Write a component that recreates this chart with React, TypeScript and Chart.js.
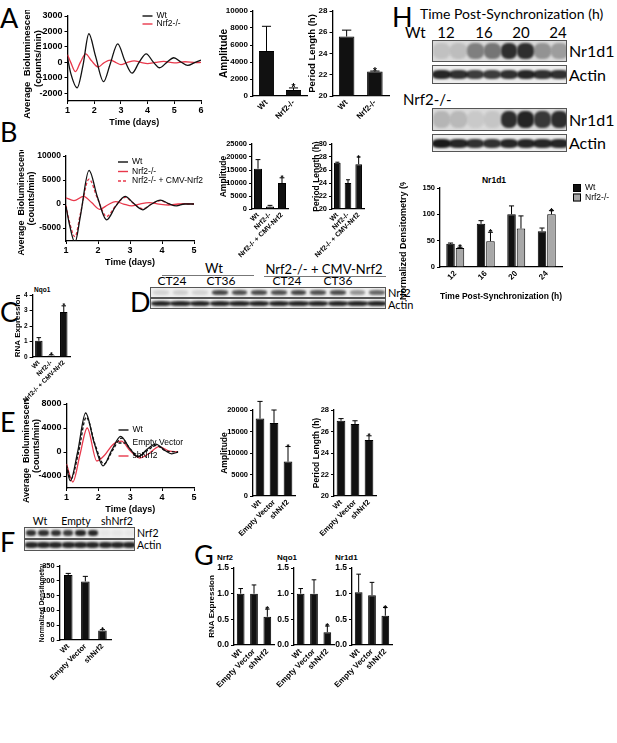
import React, { useEffect, useRef } from "react";
import { Chart, registerables } from "chart.js";

const ARIAL = "'Liberation Sans', Arial, Helvetica, sans-serif";
const CAL = "Lato, 'Open Sans', sans-serif";
const RED = "#e8384b";
const BLACK = "#111111";
const GRAY = "#a8a8a8";

// ---------------- Panel A ----------------
const A_WT_DAYS = [1.0, 1.12, 1.36, 1.58, 1.8, 2.05, 2.35, 2.6, 2.88, 3.15, 3.42, 3.68, 3.95, 4.2, 4.45, 4.72, 4.98, 5.25, 5.5, 5.78, 6.0];
const A_WT_VALS = [300, -700, -1650, -200, 1850, 400, -1250, -100, 1200, 100, -700, 0, 550, 50, -350, 0, 300, 20, -200, 0, 150];
const A_KO_DAYS = [1.0, 1.12, 1.3, 1.48, 1.68, 1.9, 2.15, 2.35, 2.6, 2.8, 3.0, 3.25, 3.5, 3.75, 4.0, 4.3, 4.6, 5.0, 5.4, 5.8, 6.0];
const A_KO_VALS = [500, 0, -600, 0, 550, 100, -300, -50, 150, 0, -150, 0, 100, 0, -80, 0, 60, -30, 40, -20, 0];
const A_LINE_YTICKS = [-2000, -1000, 0, 1000, 2000, 3000];
const A_LINE_XTICKS = [1, 2, 3, 4, 5, 6];

const A_GROUPS = ["Wt", "Nrf2-/-"];
const A_AMP = [5300, 700];
const A_AMP_ERR = [2900, 250];
const A_AMP_STAR = [false, true];
const A_AMP_TICKS = [0, 2000, 4000, 6000, 8000, 10000];
const A_PER = [25.6, 22.3];
const A_PER_ERR = [0.6, 0.05];
const A_PER_STAR = [false, true];
const A_PER_TICKS = [20, 22, 24, 26, 28];

// ---------------- Panel B ----------------
const B_WT_DAYS = [1.0, 1.1, 1.28, 1.45, 1.72, 1.98, 2.27, 2.55, 2.85, 3.1, 3.4, 3.65, 3.95, 4.2, 4.45, 4.7, 5.0];
const B_WT_VALS = [-500, -4000, -8000, -2500, 7000, 1500, -3300, -500, 1600, 200, -1200, -100, 800, 100, -400, 0, 0];
const B_KO_DAYS = [1.0, 1.25, 1.55, 1.8, 2.05, 2.3, 2.55, 2.8, 3.05, 3.3, 3.6, 3.9, 4.2, 4.5, 4.8, 5.0];
const B_KO_VALS = [1300, 700, 1600, 300, -1100, -200, 500, 0, -400, 0, 300, 0, -200, 0, 100, 0];
const B_CMV_DAYS = [1.0, 1.1, 1.28, 1.45, 1.72, 1.98, 2.27, 2.55, 2.85, 3.1, 3.4, 3.65, 3.95, 4.2, 4.45, 4.7, 5.0];
const B_CMV_VALS = [-300, -3500, -6800, -2000, 5200, 1200, -2600, -400, 1400, 200, -1000, -100, 700, 100, -300, 0, 0];
const B_LINE_YTICKS = [-5000, 0, 5000, 10000];
const B_LINE_XTICKS = [1, 2, 3, 4, 5];

const B_GROUPS = ["Wt", "Nrf2-/-", "Nrf2-/- + CMV-Nrf2"];
const B_AMP = [15500, 1000, 10000];
const B_AMP_ERR = [3500, 400, 2000];
const B_AMP_STAR = [false, false, true];
const B_AMP_TICKS = [0, 5000, 10000, 15000, 20000, 25000];
const B_PER = [27.1, 24.0, 26.9];
const B_PER_ERR = [0.1, 0.5, 1.1];
const B_PER_STAR = [false, false, true];
const B_PER_TICKS = [20, 22, 24, 26, 28, 30];

// ---------------- Panel C ----------------
const C_VALS = [1.05, 0.1, 2.9];
const C_ERR = [0.2, 0.05, 0.4];
const C_STAR = [false, true, true];
const C_TICKS = [0, 1, 2, 3, 4];

// ---------------- Panel E ----------------
const E_WT_DAYS = [1.0, 1.12, 1.35, 1.6, 1.87, 2.15, 2.42, 2.7, 2.98, 3.25, 3.52, 3.8, 4.08, 4.3, 4.5];
const E_WT_VALS = [-2500, -4800, 0, 6500, 1500, -2300, 300, 2600, 600, -800, 400, 1300, 300, -300, 0];
const E_EV_DAYS = [1.0, 1.14, 1.38, 1.62, 1.9, 2.17, 2.45, 2.72, 3.0, 3.27, 3.55, 3.82, 4.1, 4.5];
const E_EV_VALS = [-2200, -4500, 0, 5800, 1200, -2000, 300, 2300, 500, -700, 300, 1100, 200, 0];
const E_SH_DAYS = [1.0, 1.2, 1.42, 1.65, 1.95, 2.2, 2.45, 2.72, 3.0, 3.3, 3.6, 3.9, 4.2, 4.5];
const E_SH_VALS = [-2000, -5000, -500, 4000, -1500, -500, 1200, 1800, 200, -1000, -200, 900, 200, 0];
const E_LINE_YTICKS = [-4000, 0, 4000, 8000];
const E_LINE_XTICKS = [1, 2, 3, 4, 5];

const SH_GROUPS = ["Wt", "Empty Vector", "shNrf2"];
const E_AMP = [18000, 17000, 8000];
const E_AMP_ERR = [4000, 3000, 3500];
const E_AMP_STAR = [false, false, true];
const E_AMP_TICKS = [0, 5000, 10000, 15000, 20000];
const E_PER = [27.0, 26.7, 25.2];
const E_PER_ERR = [0.2, 0.3, 0.4];
const E_PER_STAR = [false, false, true];
const E_PER_TICKS = [20, 22, 24, 26, 28];

// ---------------- Panel F ----------------
const F_VALS = [220, 198, 32];
const F_ERR = [5, 17, 3];
const F_STAR = [false, false, true];
const F_TICKS = [0, 50, 100, 150, 200, 250];

// ---------------- Panel G ----------------
const G_NRF2 = [1.0, 1.0, 0.55];
const G_NRF2_ERR = [0.1, 0.17, 0.15];
const G_NQO1 = [1.0, 1.0, 0.25];
const G_NQO1_ERR = [0.1, 0.27, 0.12];
const G_NR1D1 = [1.03, 0.97, 0.57];
const G_NR1D1_ERR = [0.35, 0.25, 0.16];
const G_STAR = [false, false, true];
const G_TICKS = [0, 0.5, 1.0, 1.5];

// ---------------- Panel H ----------------
const H_TIMES = ["12", "16", "20", "24"];
const H_WT = [44, 82, 100, 68];
const H_WT_ERR = [1.5, 6, 16, 6];
const H_WT_STAR = [false, false, false, false];
const H_KO = [36, 49, 73, 100];
const H_KO_ERR = [1.5, 17, 24, 7];
const H_KO_STAR = [true, true, false, true];
const H_TICKS = [0, 50, 100, 150];

// ---------------- Blot lane intensities ----------------
const D_NRF2_LANES = [0.12, 0.14, 0.12, 0.75, 0.7, 0.72, 0.7, 0.75, 0.7, 0.72, 0.4, 0.6];
const D_ACTIN_LANES = [0.9, 0.9, 0.9, 0.9, 0.9, 0.9, 0.9, 0.9, 0.9, 0.9, 0.9, 0.9];
const F_NRF2_LANES = [0.85, 0.85, 0.85, 0.8, 0.9, 0.9, 0.04, 0.04, 0.04];
const F_ACTIN_LANES = [0.9, 0.9, 0.9, 0.9, 0.9, 0.9, 0.9, 0.9, 0.9];
const H_WT_NR_LANES = [0.12, 0.14, 0.45, 0.5, 0.85, 0.85, 0.35, 0.3];
const H_WT_ACT_LANES = [0.9, 0.85, 0.8, 0.8, 0.85, 0.9, 0.85, 0.85];
const H_KO_NR_LANES = [0.18, 0.16, 0.08, 0.1, 0.85, 0.9, 0.8, 0.85];
const H_KO_ACT_LANES = [0.95, 0.9, 0.85, 0.85, 0.9, 0.9, 0.9, 0.9];

// ---------------- plugins ----------------
const errPlugin = {
  id: "errbars",
  afterDatasetsDraw(chart: any, _a: any, opts: any) {
    const ctx = chart.ctx;
    const ys = chart.scales.y;
    const starSize = (opts && opts.star) || 9;
    chart.data.datasets.forEach((ds: any, di: number) => {
      if (!ds.errors) return;
      const meta = chart.getDatasetMeta(di);
      meta.data.forEach((bar: any, i: number) => {
        const v = ds.data[i];
        const e = ds.errors[i];
        const x = bar.x;
        const w = bar.width;
        const yTop = ys.getPixelForValue(v + e);
        ctx.save();
        ctx.strokeStyle = "#000";
        ctx.lineWidth = 1;
        ctx.beginPath();
        ctx.moveTo(x, bar.y);
        ctx.lineTo(x, yTop);
        ctx.moveTo(x - w * 0.3, yTop);
        ctx.lineTo(x + w * 0.3, yTop);
        ctx.stroke();
        if (ds.stars && ds.stars[i]) {
          ctx.fillStyle = "#000";
          ctx.font = `bold ${starSize}px ${ARIAL}`;
          ctx.textAlign = "center";
          ctx.textBaseline = "alphabetic";
          ctx.fillText("*", x, yTop - 1 + starSize * 0.45);
        }
        ctx.restore();
      });
    });
  },
};

const lineLegend = {
  id: "lineLegend",
  afterDraw(chart: any, _a: any, o: any) {
    if (!o || !o.show) return;
    const ctx = chart.ctx;
    chart.data.datasets.forEach((ds: any, i: number) => {
      const y = o.y + i * o.dy;
      ctx.save();
      ctx.strokeStyle = ds.borderColor;
      ctx.lineWidth = 1.4;
      ctx.setLineDash(ds.borderDash || []);
      ctx.beginPath();
      ctx.moveTo(o.x, y);
      ctx.lineTo(o.x + o.len, y);
      ctx.stroke();
      ctx.setLineDash([]);
      ctx.fillStyle = "#000";
      ctx.font = `${o.size}px ${ARIAL}`;
      ctx.textBaseline = "middle";
      ctx.textAlign = "left";
      ctx.fillText(ds.label, o.x + o.len + o.gap, y);
      ctx.restore();
    });
  },
};

const boxLegend = {
  id: "boxLegend",
  afterDraw(chart: any, _a: any, o: any) {
    if (!o || !o.show) return;
    const ctx = chart.ctx;
    chart.data.datasets.forEach((ds: any, i: number) => {
      const y = o.y + i * o.dy;
      ctx.save();
      ctx.fillStyle = ds.backgroundColor;
      ctx.strokeStyle = "#000";
      ctx.lineWidth = 1;
      ctx.fillRect(o.x, y - o.box / 2, o.box, o.box);
      ctx.strokeRect(o.x + 0.5, y - o.box / 2 + 0.5, o.box - 1, o.box - 1);
      ctx.fillStyle = "#000";
      ctx.font = `${o.size}px ${ARIAL}`;
      ctx.textBaseline = "middle";
      ctx.fillText(ds.label, o.x + o.box + 4, y);
      ctx.restore();
    });
  },
};

Chart.register(...registerables, errPlugin, lineLegend, boxLegend);

// ---------------- scale builders ----------------
function zeroPad(s: any) {
  s.paddingLeft = 0;
  s.paddingRight = 0;
  s.paddingTop = 0;
  s.paddingBottom = 0;
}

function yScale(s: any) {
  return {
    type: "linear",
    min: s.min,
    max: s.max,
    afterBuildTicks: (sc: any) => {
      sc.ticks = s.ticks.map((v: number) => ({ value: v }));
    },
    afterFit: (sc: any) => {
      sc.width = s.l;
      zeroPad(sc);
    },
    grid: { display: true, drawOnChartArea: false, drawTicks: true, tickLength: 3, color: "#000", lineWidth: 1 },
    border: { display: true, color: "#000", width: 1.3 },
    ticks: {
      color: "#000",
      padding: 2,
      font: { family: ARIAL, weight: "bold", size: s.tick },
      callback: (v: any) => (s.fmt ? s.fmt(v) : String(v)),
    },
    title: s.ytitle
      ? {
          display: true,
          text: s.ytitle,
          color: "#000",
          font: { family: ARIAL, weight: "bold", size: s.ytitleSize, lineHeight: 1.15 },
          padding: { top: 0, bottom: 0 },
        }
      : { display: false },
  };
}

function xTitle(s: any) {
  return s.xtitle
    ? {
        display: true,
        text: s.xtitle,
        color: "#000",
        font: { family: ARIAL, weight: "bold", size: s.xtitleSize, lineHeight: 1.15 },
        padding: { top: 0, bottom: 0 },
      }
    : { display: false };
}

function canvasOrigin(s: any) {
  return { ox: s.x0 - s.l, oy: s.y0 - (s.t ?? 6) };
}

function barConfig(s: any) {
  const { ox, oy } = canvasOrigin(s);
  return {
    type: "bar",
    data: {
      labels: s.labels,
      datasets: s.series.map((d: any) => ({
        label: d.label || "",
        data: d.data,
        errors: d.err,
        stars: d.star,
        backgroundColor: d.color,
        borderColor: "#000",
        borderWidth: 1,
        categoryPercentage: s.cat,
        barPercentage: s.bar,
      })),
    },
    options: {
      responsive: false,
      animation: false,
      events: [],
      layout: { padding: { left: 0, top: s.t ?? 6, right: s.r ?? 4, bottom: 0 }, autoPadding: false },
      plugins: {
        legend: { display: false },
        tooltip: { enabled: false },
        errbars: { star: s.star ?? 9 },
        lineLegend: { show: false },
        boxLegend: s.legend
          ? { show: true, x: s.legend.x - ox, y: s.legend.y - oy, dy: s.legend.dy, box: s.legend.box, size: s.legend.size }
          : { show: false },
      },
      scales: {
        x: {
          type: "category",
          offset: true,
          afterFit: (sc: any) => {
            sc.height = s.b;
            zeroPad(sc);
          },
          grid: { display: false, drawTicks: false },
          border: { display: true, color: "#000", width: 1.3 },
          ticks: {
            color: "#000",
            autoSkip: false,
            maxRotation: s.rot,
            minRotation: s.rot,
            padding: 2,
            font: { family: ARIAL, weight: "bold", size: s.xsize },
          },
          title: xTitle(s),
        },
        y: yScale(s),
      },
    },
  };
}

function lineConfig(s: any) {
  const { ox, oy } = canvasOrigin(s);
  return {
    type: "line",
    data: {
      datasets: s.series.map((d: any) => ({
        label: d.label,
        data: d.days.map((x: number, i: number) => ({ x, y: d.vals[i] })),
        borderColor: d.color,
        borderDash: d.dash || [],
        borderWidth: 1.3,
        pointRadius: 0,
        cubicInterpolationMode: "monotone",
        fill: false,
      })),
    },
    options: {
      responsive: false,
      animation: false,
      events: [],
      layout: { padding: { left: 0, top: s.t ?? 6, right: s.r ?? 6, bottom: 0 }, autoPadding: false },
      plugins: {
        legend: { display: false },
        tooltip: { enabled: false },
        boxLegend: { show: false },
        lineLegend: {
          show: true,
          x: s.legend.x - ox,
          y: s.legend.y - oy,
          dy: s.legend.dy,
          len: s.legend.len,
          gap: 4,
          size: s.legend.size,
        },
      },
      scales: {
        x: {
          type: "linear",
          min: s.xmin,
          max: s.xmax,
          afterBuildTicks: (sc: any) => {
            sc.ticks = s.xticks.map((v: number) => ({ value: v }));
          },
          afterFit: (sc: any) => {
            sc.height = s.b;
            zeroPad(sc);
          },
          grid: { display: true, drawOnChartArea: false, drawTicks: true, tickLength: 3, color: "#000" },
          border: { display: true, color: "#000", width: 1.3 },
          ticks: {
            color: "#000",
            padding: 1,
            maxRotation: 0,
            autoSkip: false,
            font: { family: ARIAL, weight: "bold", size: s.xsize },
            callback: (v: any) => String(v),
          },
          title: xTitle(s),
        },
        y: yScale(s),
      },
    },
  };
}

function ChartBox({ spec }: { spec: any }) {
  const ref = useRef<HTMLCanvasElement>(null);
  const t = spec.t ?? 6;
  const r = spec.r ?? (spec.kind === "line" ? 6 : 4);
  const w = Math.round(spec.x1 - spec.x0 + spec.l + r);
  const h = Math.round(spec.y1 - spec.y0 + t + spec.b);
  useEffect(() => {
    const cfg: any = spec.kind === "bar" ? barConfig({ ...spec, r }) : lineConfig({ ...spec, r });
    const ch = new Chart(ref.current as HTMLCanvasElement, cfg);
    return () => ch.destroy();
  }, []);
  return (
    <canvas
      ref={ref}
      width={w}
      height={h}
      style={{ position: "absolute", left: spec.x0 - spec.l, top: spec.y0 - t, width: w, height: h }}
    />
  );
}

// ---------------- chart specs ----------------
const f1 = (v: number) => v.toFixed(1);
const ser = (data: number[], err: number[], star: boolean[], color = BLACK, label = "") => ({ data, err, star, color, label });

const SPECS: any[] = [
  {
    key: "aLine", kind: "line", x0: 67, x1: 200, y0: 16, y1: 101, l: 45.5, b: 27,
    xmin: 1, xmax: 6, xticks: A_LINE_XTICKS, min: -2500, max: 3000, ticks: A_LINE_YTICKS,
    tick: 9, xsize: 9, ytitle: ["Average  Bioluminescence", "(counts/min)"], ytitleSize: 9.5,
    xtitle: "Time (days)", xtitleSize: 9,
    series: [
      { label: "Wt", days: A_WT_DAYS, vals: A_WT_VALS, color: BLACK },
      { label: "Nrf2-/-", days: A_KO_DAYS, vals: A_KO_VALS, color: RED },
    ],
    legend: { x: 142, y: 16, dy: 8, len: 10, size: 8.5 },
  },
  {
    key: "aAmp", kind: "bar", x0: 253, x1: 307, y0: 11, y1: 96, l: 35, b: 25,
    labels: A_GROUPS, series: [ser(A_AMP, A_AMP_ERR, A_AMP_STAR)],
    min: 0, max: 10000, ticks: A_AMP_TICKS, tick: 8, ytitle: "Amplitude", ytitleSize: 10,
    xsize: 8, rot: 45, cat: 0.56, bar: 1, star: 10,
  },
  {
    key: "aPer", kind: "bar", x0: 332, x1: 388, y0: 11, y1: 96, l: 25.5, b: 25,
    labels: A_GROUPS, series: [ser(A_PER, A_PER_ERR, A_PER_STAR)],
    min: 20, max: 28, ticks: A_PER_TICKS, tick: 8, ytitle: "Period Length (h)", ytitleSize: 9.5,
    xsize: 8, rot: 45, cat: 0.55, bar: 1, star: 10,
  },
  {
    key: "bLine", kind: "line", x0: 66, x1: 194, y0: 156, y1: 241, l: 50, b: 27, r: 28,
    xmin: 1, xmax: 5, xticks: B_LINE_XTICKS, min: -7700, max: 10000, ticks: B_LINE_YTICKS,
    tick: 8.5, xsize: 9, ytitle: ["Average  Bioluminescence", "(counts/min)"], ytitleSize: 9,
    xtitle: "Time (days)", xtitleSize: 9,
    series: [
      { label: "Wt", days: B_WT_DAYS, vals: B_WT_VALS, color: BLACK },
      { label: "Nrf2-/-", days: B_KO_DAYS, vals: B_KO_VALS, color: RED },
      { label: "Nrf2-/- + CMV-Nrf2", days: B_CMV_DAYS, vals: B_CMV_VALS, color: RED, dash: [3, 2] },
    ],
    legend: { x: 118, y: 162, dy: 9.5, len: 10, size: 8.5 },
  },
  {
    key: "bAmp", kind: "bar", x0: 252, x1: 288, y0: 144, y1: 209, l: 33, b: 60,
    labels: B_GROUPS, series: [ser(B_AMP, B_AMP_ERR, B_AMP_STAR)],
    min: 0, max: 25000, ticks: B_AMP_TICKS, tick: 7.5, ytitle: "Amplitude", ytitleSize: 8.5,
    xsize: 7, rot: 45, cat: 0.67, bar: 1, star: 8,
  },
  {
    key: "bPer", kind: "bar", x0: 332, x1: 364, y0: 144, y1: 209, l: 20, b: 60,
    labels: B_GROUPS, series: [ser(B_PER, B_PER_ERR, B_PER_STAR)],
    min: 20, max: 30, ticks: B_PER_TICKS, tick: 7.5, ytitle: "Period Length (h)", ytitleSize: 8.5,
    xsize: 7, rot: 45, cat: 0.62, bar: 1, star: 8,
  },
  {
    key: "c", kind: "bar", x0: 33, x1: 70, y0: 295, y1: 357, l: 19.6, b: 58,
    labels: B_GROUPS, series: [ser(C_VALS, C_ERR, C_STAR)],
    min: 0, max: 4, ticks: C_TICKS, tick: 6.5, ytitle: "RNA Expression", ytitleSize: 8,
    xsize: 6.5, rot: 45, cat: 0.6, bar: 1, star: 7,
  },
  {
    key: "eLine", kind: "line", x0: 66, x1: 193, y0: 404, y1: 488, l: 45.5, b: 27, r: 12,
    xmin: 1, xmax: 5, xticks: E_LINE_XTICKS, min: -6000, max: 8000, ticks: E_LINE_YTICKS,
    tick: 9, xsize: 9, ytitle: ["Average  Bioluminescence", "(counts/min)"], ytitleSize: 9,
    xtitle: "Time (days)", xtitleSize: 9,
    series: [
      { label: "Wt", days: E_WT_DAYS, vals: E_WT_VALS, color: BLACK },
      { label: "Empty Vector", days: E_EV_DAYS, vals: E_EV_VALS, color: BLACK, dash: [3, 2] },
      { label: "shNrf2", days: E_SH_DAYS, vals: E_SH_VALS, color: RED },
    ],
    legend: { x: 118, y: 430, dy: 13, len: 10, size: 8.5 },
  },
  {
    key: "eAmp", kind: "bar", x0: 253, x1: 295, y0: 410, y1: 496, l: 33, b: 48,
    labels: SH_GROUPS, series: [ser(E_AMP, E_AMP_ERR, E_AMP_STAR)],
    min: 0, max: 20000, ticks: E_AMP_TICKS, tick: 7.5, ytitle: "Amplitude", ytitleSize: 8.5,
    xsize: 7.5, rot: 45, cat: 0.62, bar: 1, star: 8, t: 14,
  },
  {
    key: "ePer", kind: "bar", x0: 334, x1: 376, y0: 410, y1: 496, l: 22, b: 48,
    labels: SH_GROUPS, series: [ser(E_PER, E_PER_ERR, E_PER_STAR)],
    min: 20, max: 28, ticks: E_PER_TICKS, tick: 7.5, ytitle: "Period Length (h)", ytitleSize: 8.5,
    xsize: 7.5, rot: 45, cat: 0.62, bar: 1, star: 8,
  },
  {
    key: "f", kind: "bar", x0: 60, x1: 111, y0: 566, y1: 640, l: 21.7, b: 48,
    labels: SH_GROUPS, series: [ser(F_VALS, F_ERR, F_STAR)],
    min: 0, max: 250, ticks: F_TICKS, tick: 7.5, ytitle: "Normalized Densitometry", ytitleSize: 6.5,
    xsize: 7.5, rot: 45, cat: 0.5, bar: 1, star: 8,
  },
  {
    key: "g1", kind: "bar", x0: 234, x1: 274, y0: 568, y1: 645, l: 27, b: 46,
    labels: SH_GROUPS, series: [ser(G_NRF2, G_NRF2_ERR, G_STAR)],
    min: 0, max: 1.5, ticks: G_TICKS, fmt: f1, tick: 8.5, ytitle: "RNA Expression", ytitleSize: 8,
    xsize: 8, rot: 45, cat: 0.58, bar: 1, star: 9,
  },
  {
    key: "g2", kind: "bar", x0: 294, x1: 334, y0: 568, y1: 645, l: 20, b: 46,
    labels: SH_GROUPS, series: [ser(G_NQO1, G_NQO1_ERR, G_STAR)],
    min: 0, max: 1.5, ticks: G_TICKS, fmt: f1, tick: 8.5,
    xsize: 8, rot: 45, cat: 0.58, bar: 1, star: 9,
  },
  {
    key: "g3", kind: "bar", x0: 352, x1: 392, y0: 568, y1: 645, l: 20, b: 46,
    labels: SH_GROUPS, series: [ser(G_NR1D1, G_NR1D1_ERR, G_STAR)],
    min: 0, max: 1.5, ticks: G_TICKS, fmt: f1, tick: 8.5,
    xsize: 8, rot: 45, cat: 0.58, bar: 1, star: 9,
  },
  {
    key: "h", kind: "bar", x0: 440, x1: 562, y0: 188, y1: 267, l: 42, b: 35, r: 55,
    labels: H_TIMES,
    series: [ser(H_WT, H_WT_ERR, H_WT_STAR, BLACK, "Wt"), ser(H_KO, H_KO_ERR, H_KO_STAR, GRAY, "Nrf2-/-")],
    min: 0, max: 150, ticks: H_TICKS, tick: 7.5, ytitle: "Normalized Densitometry (% Max)", ytitleSize: 9,
    xsize: 8, rot: 45, cat: 0.62, bar: 0.9, star: 9,
    xtitle: "Time Post-Synchronization (h)", xtitleSize: 8.5,
    legend: { x: 573, y: 188, dy: 9.5, box: 8, size: 8.5 },
  },
];

// ---------------- HTML helpers ----------------
function Txt({ x, y, s, size, family = CAL, weight = 400, anchor = "left" }: any) {
  return (
    <div
      style={{
        position: "absolute",
        left: x,
        top: y,
        transform: anchor === "center" ? "translate(-50%,-50%)" : "translate(0,-50%)",
        fontSize: size,
        fontFamily: family,
        fontWeight: weight,
        lineHeight: 1,
        whiteSpace: "nowrap",
        color: "#000",
      }}
    >
      {s}
    </div>
  );
}

function HLine({ x, y, w, c = "#777" }: any) {
  return <div style={{ position: "absolute", left: x, top: y, width: w, height: 0, borderTop: `1px solid ${c}` }} />;
}

function Blot({ x, y, w, h, lanes, band, spread, bg = "#efefef" }: any) {
  const lw = w / lanes.length;
  const bh = h * band;
  return (
    <div
      style={{
        position: "absolute",
        left: x,
        top: y,
        width: w,
        height: h,
        border: "1px solid #555",
        background: bg,
        overflow: "hidden",
        boxSizing: "border-box",
      }}
    >
      {lanes.map((a: number, i: number) => (
        <div
          key={i}
          style={{
            position: "absolute",
            left: i * lw + (lw * (1 - spread)) / 2,
            width: lw * spread,
            top: (h - bh) / 2 - 1,
            height: bh,
            borderRadius: "40%",
            background: `rgba(15,15,15,${a})`,
            filter: "blur(1.2px)",
          }}
        />
      ))}
    </div>
  );
}

export default function App() {
  return (
    <div style={{ position: "absolute", left: 0, top: 0, width: 617, height: 743, background: "#fff", overflow: "hidden" }}>
      {/* panel letters */}
      <Txt x={0} y={17} s="A" size={27} />
      <Txt x={0} y={131} s="B" size={27} />
      <Txt x={0} y={311} s="C" size={27} />
      <Txt x={130} y={301} s="D" size={27} />
      <Txt x={0} y={421} s="E" size={27} />
      <Txt x={0} y={541} s="F" size={27} />
      <Txt x={194} y={554} s="G" size={27} />
      <Txt x={392} y={16} s="H" size={27} />

      {/* C title */}
      <Txt x={34} y={290} s="Nqo1" size={6.5} family={ARIAL} weight={700} />

      {/* D blot */}
      <Txt x={214} y={268} s="Wt" size={13} anchor="center" />
      <HLine x={162} y={275} w={92} />
      <Txt x={324} y={269} s="Nrf2-/- + CMV-Nrf2" size={13} anchor="center" />
      <HLine x={264} y={276} w={122} />
      <Txt x={172} y={281} s="CT24" size={12} anchor="center" />
      <Txt x={221} y={281} s="CT36" size={12} anchor="center" />
      <Txt x={287} y={281} s="CT24" size={12} anchor="center" />
      <Txt x={338} y={281} s="CT36" size={12} anchor="center" />
      <Blot x={150} y={287} w={236} h={11} lanes={D_NRF2_LANES} band={0.4} spread={0.8} />
      <Blot x={150} y={298} w={236} h={11} lanes={D_ACTIN_LANES} band={0.45} spread={1.05} />
      <Txt x={388} y={292} s="Nrf2" size={11} />
      <Txt x={388} y={304} s="Actin" size={11} />

      {/* F blot */}
      <Txt x={40} y={521} s="Wt" size={10.5} anchor="center" />
      <Txt x={76} y={521} s="Empty" size={10.5} anchor="center" />
      <Txt x={117} y={521} s="shNrf2" size={10.5} anchor="center" />
      <Blot x={24} y={527} w={111} h={12} lanes={F_NRF2_LANES} band={0.45} spread={0.82} />
      <Blot x={24} y={539} w={111} h={12} lanes={F_ACTIN_LANES} band={0.45} spread={1.05} />
      <Txt x={137} y={533} s="Nrf2" size={10.5} />
      <Txt x={137} y={545} s="Actin" size={10.5} />

      {/* G titles */}
      <Txt x={217} y={558} s="Nrf2" size={8} family={ARIAL} weight={700} />
      <Txt x={277} y={558} s="Nqo1" size={8} family={ARIAL} weight={700} />
      <Txt x={335} y={558} s="Nr1d1" size={8} family={ARIAL} weight={700} />

      {/* H blots */}
      <Txt x={420} y={14} s="Time Post-Synchronization (h)" size={14} />
      <Txt x={405} y={32} s="Wt" size={15} />
      <Txt x={446} y={32} s="12" size={15} anchor="center" />
      <Txt x={484} y={32} s="16" size={15} anchor="center" />
      <Txt x={521} y={32} s="20" size={15} anchor="center" />
      <Txt x={558} y={32} s="24" size={15} anchor="center" />
      <Blot x={432} y={40} w={135} h={22} lanes={H_WT_NR_LANES} band={0.7} spread={1.0} bg="#dadada" />
      <Blot x={432} y={65} w={135} h={19} lanes={H_WT_ACT_LANES} band={0.5} spread={1.1} bg="#ededed" />
      <Txt x={569} y={51} s="Nr1d1" size={16} />
      <Txt x={569} y={75} s="Actin" size={16} />
      <Txt x={403} y={99} s="Nrf2-/-" size={15} />
      <Blot x={432} y={108} w={135} h={23} lanes={H_KO_NR_LANES} band={0.7} spread={1.0} bg="#dadada" />
      <Blot x={432} y={134} w={135} h={18} lanes={H_KO_ACT_LANES} band={0.5} spread={1.1} bg="#ededed" />
      <Txt x={569} y={120} s="Nr1d1" size={16} />
      <Txt x={569} y={143} s="Actin" size={16} />
      <Txt x={494} y={180} s="Nr1d1" size={8.5} family={ARIAL} weight={700} anchor="center" />

      {SPECS.map((s) => (
        <ChartBox key={s.key} spec={s} />
      ))}
    </div>
  );
}
